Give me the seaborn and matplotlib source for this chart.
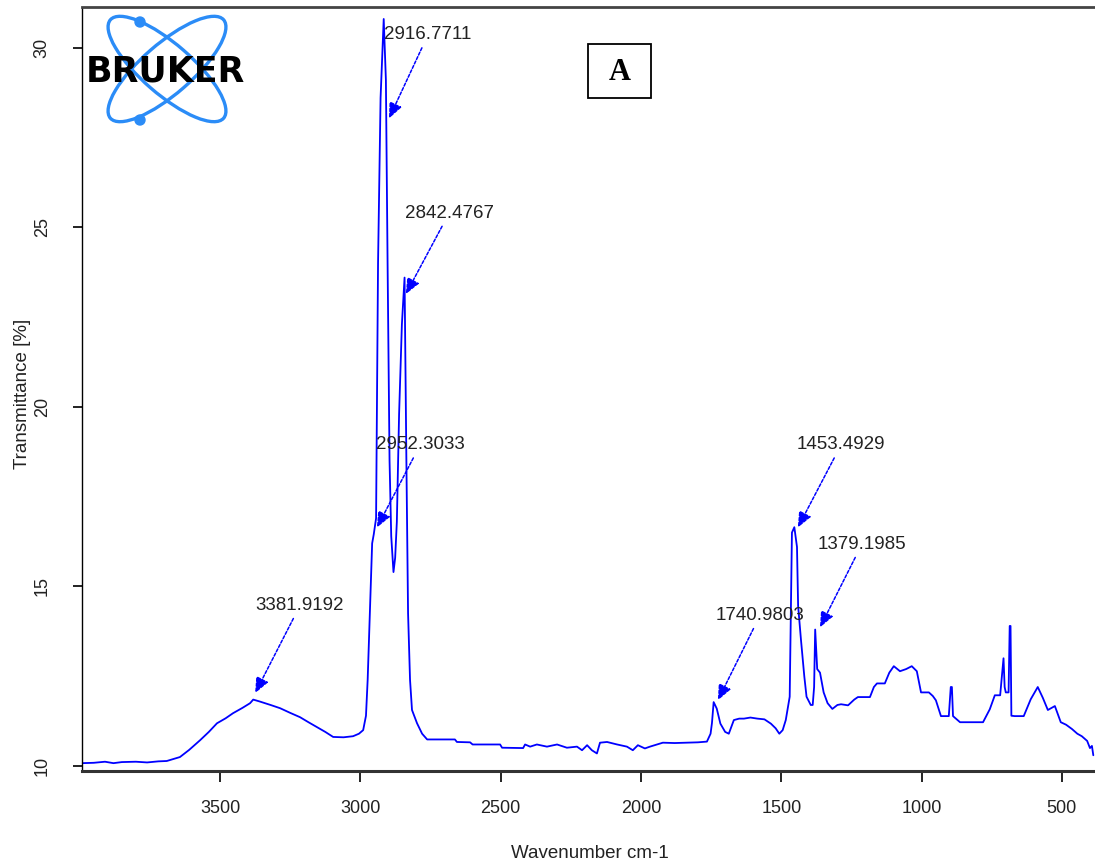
import numpy as np
import pandas as pd
import matplotlib.pyplot as plt
import seaborn as sns
from matplotlib import font_manager
from matplotlib.patches import Ellipse, Circle, Rectangle

# FT-IR spectrum (wavenumber cm-1, transmittance %)
wavenumber = [
    3992, 3950, 3910, 3880, 3850, 3800, 3760, 3720, 3690, 3665, 3643, 3610, 3571,
    3540, 3511, 3480, 3454, 3420, 3393, 3381.9, 3360, 3320, 3286, 3250, 3215, 3185,
    3154, 3125, 3097, 3060, 3026, 3005, 2990, 2980, 2974, 2966, 2958, 2952.3, 2944,
    2937, 2928, 2916.8, 2909, 2903, 2896, 2890, 2882, 2876, 2870, 2862, 2852, 2842.5,
    2836, 2830, 2823, 2816, 2798, 2780, 2762, 2700, 2663, 2656, 2609, 2600, 2502,
    2495, 2420, 2413, 2395, 2371, 2335, 2299, 2264, 2228, 2210, 2192, 2175, 2157,
    2146, 2121, 2085, 2050, 2029, 2011, 1986, 1968, 1922, 1880, 1797, 1765, 1752,
    1747, 1741, 1730, 1717, 1700, 1687, 1669, 1650, 1633, 1610, 1585, 1560, 1537,
    1520, 1507, 1495, 1484, 1470, 1462, 1453.5, 1444, 1440, 1430, 1418, 1410, 1395,
    1388, 1383, 1379.2, 1372, 1362, 1349, 1335, 1318, 1300, 1287, 1262, 1240, 1227,
    1184, 1170, 1159, 1131, 1115, 1099, 1077, 1055, 1035, 1017, 1002, 974, 960, 949,
    931, 903, 896, 892, 888, 863, 781, 757, 739, 720, 714, 708, 704, 700, 696, 690,
    686, 683, 680, 668, 636, 611, 586, 568, 550, 525, 504, 485, 464, 445, 429, 410,
    400, 393, 388,
]
transmittance = [
    10.08, 10.09, 10.12, 10.08, 10.11, 10.12, 10.10, 10.13, 10.14, 10.20, 10.25, 10.45, 10.72,
    10.95, 11.19, 11.33, 11.47, 11.62, 11.75, 11.85, 11.80, 11.70, 11.61, 11.48, 11.36, 11.22,
    11.08, 10.95, 10.81, 10.80, 10.83, 10.90, 11.00, 11.40, 12.40, 14.30, 16.20, 16.45, 16.90,
    24.00, 28.60, 30.80, 29.10, 24.00, 18.50, 16.40, 15.40, 15.80, 16.80, 19.80, 22.30, 23.60,
    18.50, 14.25, 12.40, 11.56, 11.19, 10.90, 10.74, 10.74, 10.74, 10.67, 10.66, 10.60, 10.60,
    10.51, 10.50, 10.60, 10.54, 10.60, 10.54, 10.60, 10.51, 10.54, 10.44, 10.58, 10.44, 10.35,
    10.65, 10.67, 10.60, 10.54, 10.44, 10.58, 10.49, 10.54, 10.65, 10.64, 10.66, 10.68, 10.90,
    11.20, 11.78, 11.60, 11.18, 10.95, 10.90, 11.28, 11.32, 11.32, 11.35, 11.32, 11.30, 11.18,
    11.05, 10.90, 11.00, 11.28, 11.93, 16.50, 16.65, 16.10, 14.46, 13.53, 12.50, 11.93, 11.70,
    11.70, 12.20, 13.80, 12.70, 12.60, 12.05, 11.75, 11.59, 11.70, 11.72, 11.69, 11.85, 11.92,
    11.92, 12.20, 12.30, 12.30, 12.60, 12.78, 12.64, 12.70, 12.78, 12.64, 12.05, 12.05, 11.95, 11.83,
    11.39, 11.39, 12.20, 12.20, 11.39, 11.22, 11.22, 11.58, 11.97, 11.97, 12.50, 13.00, 12.20, 12.05, 12.05, 12.05,
    13.90, 13.90, 11.40, 11.39, 11.39, 11.86, 12.20, 11.90, 11.56, 11.67, 11.22, 11.15, 11.03, 10.90, 10.83, 10.70,
    10.50, 10.56, 10.30,
]

# labelled peaks
peak_labels = ["3381.9192", "2952.3033", "2916.7711", "2842.4767",
               "1740.9803", "1453.4929", "1379.1985"]
# arrow tips and label centres (wavenumber, transmittance)
arrow_tips = [(3375, 12.03), (2941, 16.64), (2898, 28.03), (2838, 23.14),
              (1726, 11.83), (1441, 16.64), (1362, 13.86)]
label_xy = [(3215, 14.47), (2787, 18.94), (2759, 30.36), (2684, 25.39),
            (1576, 14.19), (1287, 18.94), (1213, 16.17)]

df = pd.DataFrame({"Wavenumber": wavenumber, "Transmittance": transmittance})

sns.set_style("ticks")
names = {f.name for f in font_manager.fontManager.ttflist}
if "Liberation Sans Narrow" in names:
    font, tick_fs, lab_fs, ann_fs = "Liberation Sans Narrow", 15.5, 16, 16
else:
    font, tick_fs, lab_fs, ann_fs = "Liberation Sans", 13, 13.5, 13.5
plt.rcParams["font.family"] = [font, "DejaVu Sans"]

W, H = 1095, 863
fig = plt.figure(figsize=(W / 100, H / 100), dpi=100)
ax = fig.add_axes([82 / W, (H - 770.7) / H, 1.0 - 82 / W, (770.7 - 7.5) / H])

sns.lineplot(data=df, x="Wavenumber", y="Transmittance", ax=ax,
             color="#0000ff", linewidth=1.3, estimator=None, sort=False)

ax.set_xlim(3992, 382)
ax.set_ylim(9.87, 31.12)
ax.set_xticks([3500, 3000, 2500, 2000, 1500, 1000, 500])
ax.set_yticks([10, 15, 20, 25, 30])
ax.tick_params(axis="x", length=8, width=1.4, pad=13, labelsize=tick_fs, colors="#222222")
ax.tick_params(axis="y", length=6.5, width=1.4, pad=16, labelsize=tick_fs,
               labelrotation=90, colors="#222222")
for lab in ax.get_yticklabels():
    lab.set_va("center")

ax.spines["right"].set_visible(False)
ax.spines["bottom"].set_linewidth(2.2)
ax.spines["bottom"].set_color("#333333")
ax.spines["top"].set_linewidth(2.0)
ax.spines["top"].set_color("#444444")
ax.spines["left"].set_linewidth(1.0)
ax.spines["left"].set_color("#000000")

ax.set_xlabel("Wavenumber cm-1", fontsize=lab_fs, color="#222222")
ax.set_ylabel("Transmittance [%]", fontsize=lab_fs, color="#222222")
ax.xaxis.set_label_coords(0.5015, -0.097)
ax.yaxis.set_label_coords(-0.050, 0.4936)

for text, tip, pos in zip(peak_labels, arrow_tips, label_xy):
    ax.annotate(text, xy=tip, xytext=pos, ha="center", va="center",
                fontsize=ann_fs, color="#222222",
                arrowprops=dict(arrowstyle="-|>,head_length=0.7,head_width=0.3",
                                color="#0000ff", lw=1.1, linestyle=(0, (2, 1.2)),
                                shrinkA=1, shrinkB=0))

# overlay in pixel coordinates for the logo and the panel letter
ov = fig.add_axes([0, 0, 1, 1])
ov.set_xlim(0, W)
ov.set_ylim(H, 0)
ov.axis("off")
ov.patch.set_alpha(0)

logo_blue = "#2b8cf7"
for ang in (41, -41):
    ov.add_patch(Ellipse((167, 69), 150, 50, angle=ang, fill=False,
                         edgecolor=logo_blue, lw=2.4))
for cx, cy in [(140, 22), (140, 120)]:
    ov.add_patch(Circle((cx, cy), 5, color=logo_blue))
ov.text(165, 71, "BRUKER", ha="center", va="center", fontsize=25,
        fontweight="bold", family="DejaVu Sans", color="black")

ov.add_patch(Rectangle((588, 44), 63, 54, fill=False, edgecolor="black", lw=1.3))
ov.text(620, 73, "A", ha="center", va="center", fontsize=22,
        fontweight="bold", family="Liberation Serif", color="black")

fig.savefig("out.png", dpi=100)
print("saved out.png")
